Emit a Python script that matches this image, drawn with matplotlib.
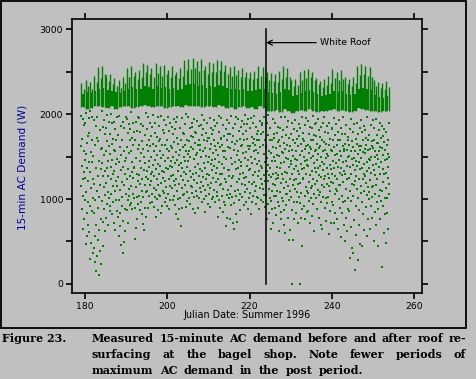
"""
fig23_bagel_shop.py – 15-minute AC demand at the bagel shop, summer 1996,
before and after the roof was resurfaced white (Julian day 224).
"""

import numpy as np
import matplotlib
matplotlib.use("Agg")
import matplotlib.pyplot as plt
from matplotlib.patches import Rectangle
from matplotlib.transforms import IdentityTransform


# ──────────────────────────────────────────────────────────────────────────────
# Data
# ──────────────────────────────────────────────────────────────────────────────

PRE_DAYS = np.arange(179, 224)    # 45 days before the retrofit
POST_DAYS = np.arange(224, 254)   # 30 days after
ROOF_DAY = 224

# daily peak-demand band (W): bottom of the dense band, top of the dense
# core, and the two highest spikes of the day
band_lo = [
    2080, 2060, 2070, 2090, 2100, 2080, 2070, 2090, 2060, 2080,
    2100, 2090, 2070, 2080, 2100, 2110, 2090, 2080, 2100, 2090,
    2070, 2080, 2100, 2090, 2080, 2110, 2100, 2090, 2100, 2080,
    2090, 2100, 2080, 2110, 2090, 2070, 2080, 2060, 2080, 2090,
    2070, 2080, 2060, 2090, 2070,
    2040, 2030, 2050, 2020, 2060, 2040, 2010, 2030, 2050, 2040,
    2060, 2030, 2020, 2040, 2030, 2050, 2060, 2040, 2050, 2030,
    2020, 2040, 2070, 2060, 2050, 2040, 2030, 2020, 2040, 2030,
]
band_core_top = [
    2240, 2260, 2250, 2270, 2300, 2310, 2280, 2270, 2260, 2250,
    2270, 2300, 2320, 2290, 2300, 2330, 2320, 2300, 2330, 2310,
    2320, 2290, 2310, 2280, 2300, 2340, 2350, 2350, 2330, 2340,
    2310, 2330, 2320, 2340, 2330, 2310, 2290, 2300, 2280, 2290,
    2270, 2270, 2280, 2300, 2290,
    2260, 2250, 2240, 2260, 2290, 2280, 2210, 2220, 2250, 2270,
    2280, 2260, 2230, 2210, 2220, 2240, 2270, 2260, 2270, 2230,
    2220, 2240, 2300, 2310, 2290, 2280, 2220, 2200, 2190, 2210,
]
peak_a = [
    2370, 2400, 2380, 2450, 2550, 2560, 2460, 2470, 2420, 2400,
    2430, 2540, 2560, 2500, 2520, 2600, 2580, 2540, 2600, 2560,
    2580, 2520, 2570, 2500, 2540, 2640, 2650, 2660, 2620, 2650,
    2560, 2610, 2600, 2640, 2620, 2580, 2550, 2560, 2520, 2540,
    2500, 2490, 2510, 2560, 2550,
    2500, 2480, 2470, 2510, 2560, 2540, 2400, 2410, 2490, 2520,
    2530, 2500, 2420, 2390, 2410, 2450, 2530, 2500, 2520, 2430,
    2410, 2440, 2570, 2590, 2560, 2550, 2400, 2380, 2370, 2390,
]
peak_b = [
    2290, 2330, 2300, 2380, 2420, 2470, 2390, 2350, 2330, 2310,
    2360, 2440, 2450, 2410, 2440, 2490, 2470, 2430, 2480, 2450,
    2470, 2430, 2460, 2420, 2450, 2520, 2530, 2540, 2510, 2520,
    2470, 2500, 2490, 2520, 2510, 2470, 2450, 2460, 2430, 2440,
    2420, 2410, 2420, 2450, 2440,
    2400, 2390, 2380, 2410, 2440, 2430, 2330, 2340, 2400, 2420,
    2430, 2400, 2350, 2320, 2340, 2370, 2420, 2400, 2410, 2350,
    2330, 2360, 2460, 2470, 2450, 2440, 2330, 2310, 2300, 2320,
]

# remaining 15-min readings of each day (W), in time order
pre_points = [
    [1620, 1980, 1150, 880, 1710, 1390, 650, 1940, 1240, 1030, 1560, 760, 1870, 1320, 990, 1460],
    [1890, 1250, 470, 1530, 2010, 1080, 830, 1660, 1370, 560, 1740, 960, 1210, 690, 1950, 1430],
    [1780, 610, 1320, 2040, 920, 290, 1550, 1130, 480, 1690, 860, 1960, 1440, 370, 1010, 1240],
    [1510, 840, 1930, 420, 1180, 260, 1640, 990, 560, 1370, 700, 1860, 150, 1090, 330, 1720],
    [1960, 1270, 520, 1680, 890, 110, 1450, 1020, 640, 1810, 390, 1160, 760, 1590, 240, 1350],
    [1420, 2030, 980, 1600, 450, 1270, 1850, 730, 1140, 1520, 880, 1930, 620, 1330, 1050, 1760],
    [1840, 1190, 1570, 780, 1990, 1360, 940, 1680, 1080, 1450, 700, 1270, 1910, 1010, 1620, 860],
    [1530, 920, 1770, 1240, 2000, 1380, 1060, 1650, 820, 1460, 1890, 1150, 1300, 970, 1710, 1580],
    [1910, 1330, 720, 1560, 1090, 1820, 640, 1410, 990, 1690, 1210, 860, 1970, 1470, 1150, 790],
    [1260, 1750, 560, 1430, 990, 1980, 830, 1610, 1110, 680, 1340, 1860, 460, 1520, 920, 1200],
    [1690, 1020, 1910, 370, 1380, 740, 1560, 1170, 490, 1830, 880, 1290, 620, 1450, 1960, 1060],
    [1480, 1940, 870, 1610, 1230, 1780, 990, 1350, 720, 1880, 1120, 1540, 1040, 1690, 1270, 930],
    [1820, 1150, 1560, 950, 2020, 1320, 1720, 880, 1440, 1060, 1900, 1250, 1630, 1010, 1380, 1790],
    [1370, 890, 1690, 530, 1910, 1140, 660, 1480, 1020, 1800, 760, 1290, 1590, 940, 1210, 1960],
    [1950, 1280, 1640, 1030, 1450, 870, 1790, 1180, 1540, 960, 1370, 1880, 1090, 1680, 1240, 820],
    [1590, 1020, 1860, 710, 1340, 1490, 640, 1170, 1750, 900, 1420, 2010, 1080, 790, 1260, 1640],
    [1330, 1820, 1100, 1570, 900, 1960, 1240, 1690, 1030, 1450, 1380, 1170, 1900, 950, 1620, 1290],
    [1740, 1210, 1490, 960, 1850, 1320, 1060, 1650, 1400, 1990, 1130, 910, 1560, 1270, 1780, 1020],
    [1460, 1900, 1110, 1620, 790, 1350, 1730, 1000, 1520, 1240, 1960, 870, 1410, 1160, 1680, 1050],
    [1860, 1290, 1570, 1040, 1710, 1390, 830, 1980, 1190, 1480, 920, 1630, 1330, 1100, 1810, 1250],
    [1520, 1070, 1780, 1320, 1930, 960, 1450, 1210, 1640, 1010, 1870, 1360, 1140, 1590, 920, 1700],
    [1690, 1350, 1970, 1060, 1480, 1230, 1800, 880, 1560, 1150, 1390, 1900, 990, 1620, 1270, 1450],
    [1380, 1850, 1130, 1600, 990, 1760, 1280, 1500, 1040, 1940, 1210, 1670, 930, 1420, 1820, 1170],
    [1910, 1240, 1550, 820, 1720, 1090, 1460, 1960, 1000, 1330, 760, 1650, 1180, 1520, 880, 1400],
    [1580, 1010, 1840, 1270, 1420, 680, 1690, 1130, 1950, 890, 1360, 1610, 1050, 1780, 1220, 1490],
    [1770, 1320, 1060, 1640, 1880, 1170, 1450, 910, 1560, 1290, 2000, 1080, 1700, 1380, 980, 1530],
    [1450, 1960, 1210, 1680, 1010, 1570, 1330, 1830, 940, 1490, 1150, 1740, 1260, 1610, 1070, 1900],
    [1850, 1140, 1590, 880, 1730, 1300, 1470, 1020, 1940, 1220, 1660, 830, 1380, 1790, 1100, 1520],
    [1310, 1780, 1040, 1540, 1920, 1190, 1630, 900, 1410, 1860, 1270, 1010, 1700, 1350, 1580, 1130],
    [1640, 1200, 1870, 1080, 1490, 1750, 960, 1330, 1990, 1150, 1560, 1260, 1820, 1000, 1420, 1690],
    [1930, 1370, 1110, 1600, 850, 1780, 1240, 1510, 1040, 1890, 1300, 1680, 940, 1440, 1170, 1720],
    [1500, 1060, 1720, 1280, 1950, 1130, 1590, 910, 1410, 1830, 1190, 1650, 1340, 1000, 1770, 1460],
    [1810, 1250, 1540, 1020, 1700, 1390, 1930, 1110, 1620, 960, 1470, 1860, 1200, 1580, 1310, 1040],
    [1370, 1900, 1080, 1660, 790, 1520, 1230, 1790, 990, 1440, 1980, 1160, 1610, 1290, 890, 1710],
    [1720, 1180, 1950, 1410, 1030, 1640, 1300, 1870, 850, 1560, 1120, 1740, 1360, 960, 1500, 1240],
    [1560, 930, 1820, 1200, 680, 1470, 1690, 1050, 1930, 780, 1340, 1610, 1110, 1760, 1270, 1010],
    [1890, 1340, 1060, 1600, 760, 1760, 1150, 1480, 930, 1980, 1250, 1670, 1020, 1410, 1830, 720],
    [1270, 1740, 950, 1580, 650, 1430, 1880, 1100, 1650, 820, 1350, 1960, 1040, 1520, 730, 1200],
    [1680, 1110, 1940, 1360, 1570, 990, 1800, 1230, 1460, 870, 1710, 1290, 1060, 1620, 1390, 1850],
    [1430, 1920, 1180, 1640, 1020, 1770, 1310, 1540, 930, 1880, 1250, 1690, 1080, 1480, 1990, 1160],
    [1800, 1260, 1550, 970, 1710, 1390, 1880, 1120, 1620, 880, 1460, 1940, 1200, 1340, 1010, 1590],
    [1350, 1840, 1070, 1620, 820, 1500, 1950, 1180, 1730, 960, 1420, 1280, 1660, 1040, 1900, 1560],
    [1710, 1200, 1980, 1470, 1090, 1640, 1320, 1850, 940, 1580, 1150, 1760, 1410, 1020, 1690, 1270],
    [1540, 1010, 1800, 1330, 1690, 880, 1450, 1920, 1130, 1610, 1240, 1760, 990, 1390, 1870, 1180],
    [1900, 1370, 1120, 1640, 960, 1790, 1280, 1530, 1050, 1970, 1210, 1700, 1430, 910, 1600, 1320],
]
post_points = [
    [1620, 1050, 1890, 1330, 760, 1480, 1210, 1750, 940, 1400, 1990, 1120, 1560, 830, 1280, 1690, 1010, 1360],
    [1370, 1830, 980, 1540, 650, 1260, 1700, 1100, 1450, 880, 1940, 1180, 1610, 720, 1300, 1030, 1760, 1490],
    [1720, 1160, 1450, 890, 1900, 1310, 1040, 1600, 1230, 810, 1520, 1780, 1090, 1380, 960, 1670, 1250, 1850],
    [1280, 1690, 920, 1510, 620, 1370, 1840, 1080, 1620, 760, 1420, 1190, 1960, 850, 1550, 1010, 1300, 1730],
    [1540, 980, 1810, 1240, 700, 1660, 1130, 1430, 870, 1970, 1320, 600, 1590, 1060, 1750, 1200, 1480, 930],
    [1850, 1310, 1060, 1640, 780, 1470, 1920, 1150, 1560, 520, 1380, 1720, 990, 1240, 640, 1620, 1100, 1450],
    [1410, 1760, 1020, 1580, 0, 1290, 1890, 870, 1510, 1160, 1690, 520, 1350, 960, 1820, 1220, 760, 1470],
    [1660, 1120, 1930, 1390, 830, 1570, 1240, 1800, 960, 1460, 1080, 1710, 1330, 720, 1620, 1180, 1880, 1020],
    [1300, 1740, 950, 1520, 0, 1830, 1190, 1410, 780, 1650, 1070, 1960, 450, 1350, 1570, 880, 1250, 1710],
    [1780, 1230, 1500, 920, 1680, 1360, 1870, 1040, 1590, 760, 1450, 1140, 1950, 1290, 1620, 850, 1400, 1090],
    [1460, 1920, 1070, 1630, 860, 1390, 1770, 1200, 1540, 980, 1850, 1280, 720, 1610, 1130, 1480, 1010, 1700],
    [1590, 1150, 1840, 1330, 800, 1690, 1240, 1510, 940, 1980, 1420, 1060, 1750, 620, 1370, 1560, 1180, 1880],
    [1890, 1320, 1580, 1010, 1740, 1210, 1460, 880, 1650, 1370, 1940, 1110, 1530, 780, 1280, 1810, 1050, 1600],
    [1390, 1730, 1080, 1620, 700, 1500, 1260, 1850, 970, 1430, 1170, 1690, 650, 1340, 1560, 1020, 1900, 1230],
    [1670, 1140, 1960, 1410, 890, 1580, 1270, 1790, 1010, 1480, 740, 1650, 1180, 1370, 1860, 950, 1530, 1300],
    [1510, 1020, 1780, 1250, 590, 1640, 1150, 1900, 860, 1400, 1710, 1090, 1350, 720, 1580, 1200, 1820, 960],
    [1830, 1290, 1560, 930, 1700, 1190, 1450, 720, 1610, 1360, 1950, 1060, 1520, 840, 1270, 1750, 1120, 1420],
    [1420, 1880, 1100, 1640, 760, 1530, 1230, 1790, 650, 1380, 1690, 1000, 1460, 1170, 1930, 890, 1570, 1310],
    [1690, 1160, 1840, 1370, 550, 1510, 1040, 1760, 1280, 830, 1620, 1200, 1970, 960, 1440, 700, 1590, 1330],
    [1560, 980, 1770, 1300, 500, 1650, 1120, 1450, 780, 1870, 1230, 1580, 620, 1390, 1700, 1010, 1490, 880],
    [1730, 1250, 1510, 860, 1640, 300, 1380, 1820, 1090, 1560, 670, 1290, 1940, 980, 1470, 1180, 1680, 420],
    [1400, 1790, 1030, 1610, 360, 1480, 1160, 1880, 750, 1340, 160, 1570, 1210, 1710, 920, 1450, 580, 1270],
    [1650, 1120, 1900, 1390, 280, 1530, 1010, 1760, 870, 1440, 1240, 1620, 690, 1350, 1830, 470, 1580, 1070],
    [1480, 1930, 1150, 1620, 450, 1370, 1790, 960, 1550, 1230, 1700, 820, 1410, 1090, 1860, 640, 1300, 1590],
    [1810, 1270, 1540, 910, 1720, 1190, 1630, 560, 1430, 1050, 1960, 1330, 770, 1580, 1140, 1690, 1000, 1470],
    [1360, 1750, 1080, 1590, 650, 1460, 1220, 1870, 920, 1500, 1310, 1680, 780, 1140, 1620, 1020, 1930, 1400],
    [1600, 1150, 1830, 1340, 500, 1700, 1060, 1490, 850, 1570, 1280, 1940, 700, 1410, 1170, 1660, 960, 1520],
    [1750, 1230, 1470, 880, 1660, 450, 1380, 1810, 1040, 1560, 760, 1290, 1900, 1110, 1610, 980, 1430, 1720],
    [1440, 1860, 1090, 1600, 200, 1350, 1740, 920, 1520, 1200, 1670, 600, 1300, 1820, 1010, 1460, 820, 1580],
    [1580, 1130, 1790, 1310, 480, 1640, 1010, 1470, 840, 1700, 1250, 1530, 650, 1380, 1900, 1060, 1490, 1180],
]

x_ticks = [180, 200, 220, 240, 260]
y_ticks = [0, 500, 1000, 1500, 2000, 2500, 3000]
y_tick_labels = ["0", "", "1000", "", "2000", "", "3000"]

x_label = "Julian Date: Summer 1996"
y_label = "15-min AC Demand (W)"
roof_label = "White Roof"
fig_number = "Figure 23."
caption_lines = [
    "Measured 15-minute AC demand before and after roof re-",
    "surfacing at the bagel shop. Note fewer periods of",
    "maximum AC demand in the post period.",
]


# ──────────────────────────────────────────────────────────────────────────────
# Figure
# ──────────────────────────────────────────────────────────────────────────────

W, H, DPI = 476, 379, 100
BG = "#c0c0c0"
GREEN = "#008000"
PX = IdentityTransform()   # pixel coordinates, origin bottom-left

days = np.concatenate([PRE_DAYS, POST_DAYS])
day_points = pre_points + post_points
assert len(day_points) == len(days)
for arr in (band_lo, band_core_top, peak_a, peak_b):
    assert len(arr) == len(days)

fig = plt.figure(figsize=(W / DPI, H / DPI), dpi=DPI, facecolor=BG)
ax = fig.add_axes([72 / W, 1 - 293 / H, 350 / W, 274 / H], facecolor=BG)

# peak band: dense core plus two spikes per day
ax.vlines(days + 0.5, band_lo, band_core_top, color=GREEN, lw=1.6)
ax.vlines(days + 0.15, band_lo, peak_a, color=GREEN, lw=1.0)
ax.vlines(days + 0.82, band_lo, peak_b, color=GREEN, lw=1.0)

# the rest of the 15-min readings, spread across each day
xs, ys = [], []
for d, vals in zip(days, day_points):
    n = len(vals)
    for i, v in enumerate(vals):
        xs.append(d + (i + 0.5) / n)
        ys.append(v)
ax.plot(xs, ys, ls="none", marker="s", ms=1.9, mew=0, color=GREEN)

# retrofit marker
ax.plot([ROOF_DAY, ROOF_DAY], [0, 3000], color="k", lw=1.1)
ax.annotate(
    roof_label, xy=(ROOF_DAY, 2840), xytext=(237.2, 2840),
    ha="left", va="center", fontsize=6.7,
    arrowprops=dict(arrowstyle="->", color="k", lw=0.9,
                    shrinkA=1, shrinkB=0, mutation_scale=9),
)

ax.set_xlim(176.85, 261.9)
ax.set_ylim(-106, 3118)
ax.set_xticks(x_ticks)
ax.set_xticklabels([str(t) for t in x_ticks])
ax.set_yticks(y_ticks)
ax.set_yticklabels(y_tick_labels)
ax.tick_params(direction="out", length=4.3, width=1.2, labelsize=6.7, pad=2,
               top=True, right=True, labeltop=False, labelright=False)
for sp in ax.spines.values():
    sp.set_linewidth(1.2)

fig.text(247, H - 318.5, x_label, transform=PX, ha="center", va="baseline",
         fontsize=6.9)
fig.text(23, H - 167, y_label, transform=PX, ha="center", va="center",
         fontsize=7.6, rotation=90, color="#0000a0")

# outer frame around the chart
fig.add_artist(Rectangle((1, H - 328), 464.5, 327, transform=PX,
                         fill=False, ec="k", lw=1.3))

# ── caption (justified, bold serif) ──────────────────────────────────────────
cap_font = dict(family="DejaVu Serif", weight="bold", size=8)
renderer = fig.canvas.get_renderer()


def put_justified(line, x0, x1, y):
    words = line.split()
    texts = [fig.text(0, y, w, transform=PX, va="baseline", **cap_font) for w in words]
    widths = [t.get_window_extent(renderer).width for t in texts]
    gap = max((x1 - x0 - sum(widths)) / max(len(words) - 1, 1), 2.5)
    x = x0
    for t, w in zip(texts, widths):
        t.set_x(x)
        x += w + gap


fig.text(2, H - 342, fig_number, transform=PX, va="baseline", **cap_font)
put_justified(caption_lines[0], 92, 466, H - 342)
put_justified(caption_lines[1], 92, 466, H - 358)
put_justified(caption_lines[2], 92, 363, H - 374)

fig.savefig("out.png", dpi=DPI, facecolor=BG)
